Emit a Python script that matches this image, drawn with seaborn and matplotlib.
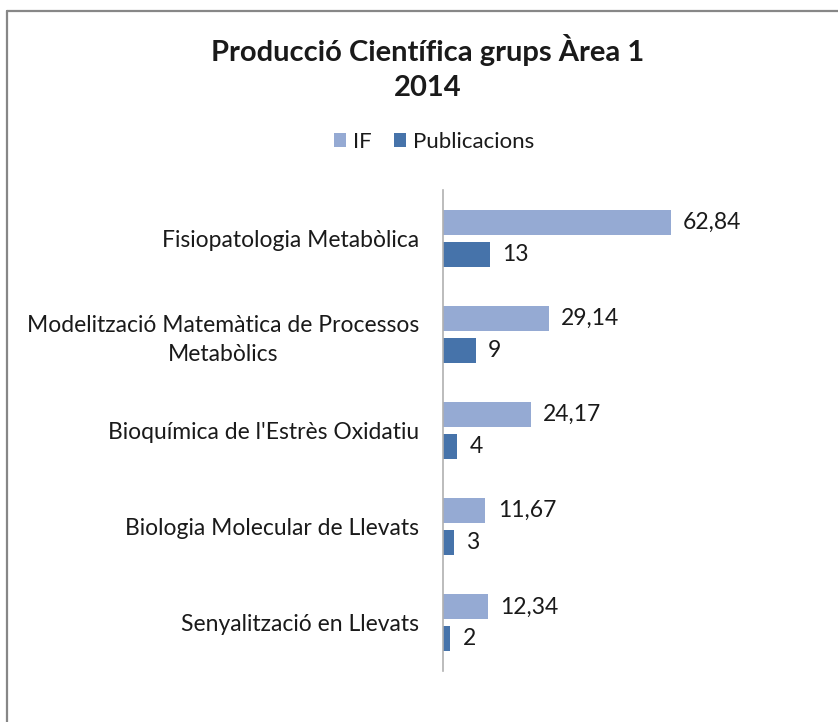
import matplotlib
matplotlib.use("Agg")
import matplotlib.pyplot as plt
import seaborn as sns
import pandas as pd
from matplotlib.lines import Line2D
from matplotlib.patches import Patch

categories = ["Fisiopatologia Metabòlica",
              "Modelització Matemàtica de Processos\nMetabòlics",
              "Bioquímica de l'Estrès Oxidatiu",
              "Biologia Molecular de Llevats",
              "Senyalització en Llevats"]
if_values = [62.84, 29.14, 24.17, 11.67, 12.34]
pub_values = [13, 9, 4, 3, 2]
series = ["IF", "Publicacions"]
colors = ["#95AAD3", "#4673AA"]

sns.set_theme(style="white")
plt.rcParams['font.family'] = ['Lato', 'DejaVu Sans']

df = pd.DataFrame({
    "cat": categories * 2,
    "val": if_values + pub_values,
    "serie": [series[0]] * len(categories) + [series[1]] * len(categories),
})

fig = plt.figure(figsize=(8.38, 7.22), dpi=100)
ax = fig.add_axes([443/838, 1 - 671/722, 347/838, 481/722])
sns.barplot(data=df, y="cat", x="val", hue="serie", palette=colors,
            orient="h", width=0.667, ax=ax, legend=False, saturation=1)

for p in ax.patches:
    h = p.get_height()
    if h == 0:
        continue
    c = p.get_y() + h / 2
    nh = 0.26
    p.set_y(c - nh / 2)
    p.set_height(nh)
    p.set_edgecolor("none")

for cont, vals in zip(ax.containers, [if_values, pub_values]):
    labels = [f"{v:.2f}".replace(".", ",") if isinstance(v, float) else str(v) for v in vals]
    ax.bar_label(cont, labels=labels, padding=9, fontsize=16.5, color="#1a1a1a")

ax.set_xlim(0, 95.8)
ax.set_ylim(4.5, -0.5)
ax.set_xlabel("")
ax.set_ylabel("")
ax.set_xticks([])
for s in ["top", "right", "bottom"]:
    ax.spines[s].set_visible(False)
ax.spines["left"].set_color("#b0b0b0")
ax.spines["left"].set_linewidth(1.2)
ax.tick_params(axis="y", length=0, pad=17, labelsize=16.5, labelcolor="#1a1a1a")
for t in ax.get_yticklabels():
    t.set_horizontalalignment("right")
    t.set_multialignment("center")
    t.set_linespacing(1.45)

fig.text(428/838, 1 - 50/722, "Producció Científica grups Àrea 1", ha="center", va="center",
         fontsize=21, fontweight="bold", color="#1a1a1a")
fig.text(428/838, 1 - 88/722, "2014", ha="center", va="center",
         fontsize=21, fontweight="bold", color="#1a1a1a")

handles = [Patch(facecolor=c, edgecolor="none") for c in colors]
fig.legend(handles, series, loc="center", bbox_to_anchor=(434/838, 1 - 142/722), ncol=2,
           frameon=False, fontsize=16, handlelength=0.55, handleheight=0.55,
           handletextpad=0.3, columnspacing=1.0, labelcolor="#1a1a1a")

fig.add_artist(Line2D([7/838, 1.0], [1 - 11/722, 1 - 11/722], color="#878787", linewidth=1.6,
                      transform=fig.transFigure))
fig.add_artist(Line2D([7/838, 7/838], [1 - 11/722, 0.0], color="#878787", linewidth=1.6,
                      transform=fig.transFigure))

fig.savefig("out.png", dpi=100)
